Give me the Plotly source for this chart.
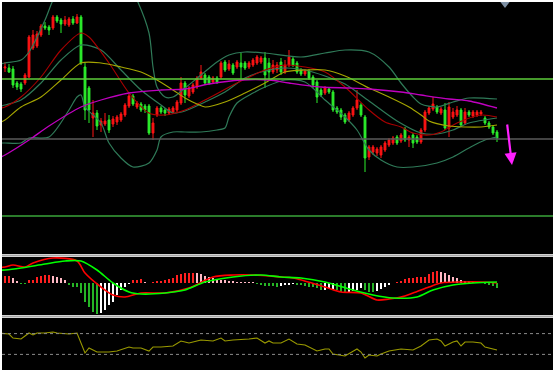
import plotly.graph_objects as go

# ---------------- candles (bar index 0..123) ----------------
bar_index = list(range(124))
open_ = [232,232,231,217,216,217,223,252,254,265,274,273,272,283,280,276,275,281,277,283,
         233,212,182,187,175,176,180,176,178,180,185,194,204,193,196,194,194,167,185,192,
         190,187,188,190,197,217,204,208,213,222,225,223,218,222,223,238,231,235,233,237,
         237,233,235,237,238,242,237,228,230,238,228,235,241,237,230,226,229,223,218,210,
         207,211,208,192,190,185,180,185,192,195,183,143,148,147,145,150,155,157,163,159,
         171,160,165,163,158,170,187,191,193,187,190,172,183,185,190,177,188,184,185,186,
         182,177,173,168]
high = [238,236,234,219,218,227,265,270,269,276,278,275,285,285,282,284,283,284,286,285,
        237,214,200,190,182,187,185,184,185,188,197,206,206,199,198,196,196,182,194,194,
        192,193,194,200,223,219,214,217,224,235,227,225,224,224,239,240,240,237,240,247,
        239,239,242,245,244,248,242,240,238,242,240,250,243,239,232,231,231,225,220,212,
        214,213,210,194,192,187,189,194,210,197,185,155,155,153,155,159,162,164,165,167,
        173,165,167,165,172,190,194,203,195,193,197,198,192,194,192,192,190,190,190,190,
        184,179,175,170]
low = [228,227,212,210,208,215,222,250,252,263,270,265,270,277,267,274,273,275,276,235,
       180,177,163,170,168,174,167,173,175,178,183,192,194,191,188,187,165,160,183,186,
       184,185,186,188,195,197,202,206,211,220,215,215,216,216,221,228,229,225,231,220,
       230,231,233,235,236,212,220,226,227,225,226,233,233,226,224,224,220,212,197,203,
       205,206,188,186,180,176,178,183,190,183,128,140,145,144,142,148,153,155,155,157,
       158,153,152,156,156,168,185,189,186,185,170,163,181,183,173,175,183,182,183,184,
       175,171,165,158]
close = [233,228,215,213,211,225,263,265,266,274,272,270,283,279,276,280,281,277,283,237,
         190,190,187,174,179,179,170,181,183,186,195,204,196,197,190,190,167,177,192,188,
         187,191,192,198,217,205,212,215,222,228,217,217,222,218,237,230,236,227,238,233,
         232,237,240,243,242,225,228,235,235,228,235,243,235,228,226,229,222,215,203,205,
         212,208,190,188,183,178,187,192,200,185,142,153,153,151,153,157,160,162,157,165,
         160,163,157,158,170,188,192,196,188,191,172,193,188,190,175,188,185,188,188,188,
         177,173,167,162]

# ---------------- main-panel indicator lines (index -1 = left edge of window) ----------------
ma_long_idx = [-1,0,6,11,19,24,31,39,45,51,59,66,71,79,86,91,99,104,111,116,123]
ma_long = [143,145,160,174,193,200,207,210,211,216,220,220,217,213,212,211,208,205,201,199,192]

ma_mid_idx = [-1,0,4,9,14,19,24,29,34,38,42,45,48,50,55,60,65,70,75,80,85,91,96,101,104,106,111,115,119,123]
ma_mid = [178,180,193,203,220,237,237,233,228,220,210,202,196,193,198,207,217,228,230,230,224,212,203,193,185,179,174,173,173,175]

ma_fast_idx = [-1,0,4,9,14,19,21,26,31,36,40,45,50,58,65,70,75,80,85,91,95,99,102,106,109,113,119,123]
ma_fast = [192,193,203,223,250,267,263,237,207,187,185,190,200,217,230,235,233,228,213,190,178,173,167,165,168,177,185,183]

bb_mid_idx = [-1,0,4,9,14,19,24,29,34,39,42,45,50,55,60,65,70,75,80,85,91,98,104,108,112,116,123]
bb_mid = [194,195,200,217,240,255,250,230,210,195,187,189,198,208,222,229,232,230,224,216,199,179,167,166,170,177,182]

bb_up_idx = [-1,0,4,6,10,12,16,24,29,33,36,37,38,40,42,45,49,53,56,60,65,74,80,85,91,96,99,102,104,108,112,116,123]
bb_up = [236,237,240,248,280,300,330,345,330,300,267,233,213,203,203,212,225,238,245,248,247,243,247,250,248,233,217,203,196,193,198,202,201]

bb_lo_idx = [-1,0,4,6,11,16,18,19,20,24,26,29,32,36,38,39,42,45,49,53,55,56,58,62,65,70,75,80,85,88,91,94,98,102,108,112,116,120,123]
bb_lo = [157,157,157,162,163,190,203,205,193,177,157,142,133,137,150,163,168,168,168,170,172,183,197,207,213,220,218,200,183,170,150,140,133,133,137,143,152,160,163]

levels_green = [221, 84]
level_gray = [161]

# ---------------- MACD ----------------
macd_hist = [6.7,6.9,4.3,2.0,-1.0,-1.2,2.7,3.0,6.0,6.7,7.7,8.0,6.7,6.0,4.3,2.7,-2.0,-4.0,-4.3,-10,
             -19,-24,-29,-31,-30,-27,-22,-19,-12,-7,-4,-1.3,2.7,2.9,3.3,1.0,-0.7,1.0,1.7,2.0,
             2.7,3.3,4.3,7.7,8.7,9.3,9.5,10.0,9.3,8.7,6.7,5.3,4.3,3.3,2.7,2.5,2.0,1.7,1.0,0.9,
             0.5,0.4,0.3,-1.7,-2.0,-3.0,-3.3,-3.6,-4.0,-3.3,-2.3,-2.0,-1.0,-2.3,-2.6,-3.3,-4.0,-4.7,-5.7,-7.3,
             -7.0,-6.7,-6.3,-7.3,-9.0,-10.0,-9.3,-8.7,-7.3,-5.7,-7.3,-9.0,-9.3,-8.0,-6.7,-4.0,-2.3,-0.7,0.7,2.0,
             3.3,4.3,5.0,5.3,5.5,6.0,8.3,10.3,11.3,11.0,9.3,7.7,6.0,4.3,2.7,2.0,1.3,1.0,0.7,0.3,
             -1.3,-2.3,-3.3,-5.7]
macd_idx = [-1,0,2,5,7,12,18,20,24,27,30,34,40,46,52,57,62,69,72,80,84,89,93,96,99,102,106,109,114,119,123]
macd_line = [15.5,15.7,17.7,15.7,19.7,24.7,21.7,9.7,-4.3,-12.3,-14.3,-10.3,-10.3,-5.3,5.7,7.7,7.7,5.7,4.7,-4.3,-9.3,
             -10.3,-17.3,-16.3,-14.3,-10.3,-4.3,-0.3,0.7,0.7,-0.3]
signal_idx = [-1,0,4,10,15,19,23,27,31,34,40,45,50,57,64,69,74,80,87,92,97,103,107,112,117,123]
signal_line = [12.5,12.7,14.7,18.7,21.7,21.7,12.7,-0.3,-9.3,-11.3,-10.3,-7.3,0.7,5.7,7.7,5.7,4.7,0.7,-7.3,-12.3,-15.3,
               -14.3,-7.3,-2.3,-0.3,0.7]

# ---------------- RSI ----------------
rsi_idx = [-1,0,1,2,4,5,6,7,8,10,12,13,16,18,19,20,21,23,26,28,31,32,34,36,37,39,42,44,46,49,52,
           54,55,57,61,63,65,66,67,69,71,73,75,78,80,81,82,85,88,89,90,91,93,94,96,99,102,104,106,108,109,
           110,112,113,114,115,117,119,120,123]
rsi = [70.6,70.6,69.2,61.5,59.6,65.4,71.2,67.3,71.2,71.2,73.1,71.2,69.2,71.2,51.9,32.7,42.3,34.6,34.6,36.5,44.2,
       42.3,42.3,36.5,44.2,44.2,46.2,55.8,51.9,57.7,55.8,61.5,55.8,57.7,59.6,61.5,51.9,55.8,51.9,51.9,59.6,
       50,48.1,36.5,40.4,40.4,30.8,26.9,40.4,34.6,23.1,28.8,26.9,30.8,36.5,40.4,38.5,46.2,57.7,59.6,55.8,
       46.2,53.8,55.8,46.2,53.8,53.8,51.9,44.2,38.5]
rsi_levels = [70, 30]

# ---------------- figure ----------------
fig = go.Figure()

fig.add_trace(go.Candlestick(
    x=bar_index, open=open_, high=high, low=low, close=close,
    increasing=dict(line=dict(color='#ff1414', width=1), fillcolor='#ff1414'),
    decreasing=dict(line=dict(color='#2cf02c', width=1), fillcolor='#2cf02c'),
    whiskerwidth=0, xaxis='x', yaxis='y', showlegend=False, hoverinfo='skip'))

def line(xs, ys, color, width=1.1, yaxis='y', shape='spline'):
    fig.add_trace(go.Scatter(x=xs, y=ys, mode='lines', yaxis=yaxis,
                             line=dict(color=color, width=width, shape=shape, smoothing=0.8),
                             showlegend=False, hoverinfo='skip'))

bb_col = '#2f7a58'
line(bb_up_idx, bb_up, bb_col, 1.2)
line(bb_mid_idx, bb_mid, bb_col, 1.2)
line(bb_lo_idx, bb_lo, bb_col, 1.2)
line(ma_fast_idx, ma_fast, '#a80000', 1.1)
line(ma_mid_idx, ma_mid, '#a6a600', 1.1)
line(ma_long_idx, ma_long, '#c000c0', 1.3)

# chart-shift marker at top
fig.add_trace(go.Scatter(x=[125], y=[297.5], mode='markers', yaxis='y',
                         marker=dict(symbol='triangle-down', size=11, color='#7d8fa3'),
                         showlegend=False, hoverinfo='skip'))

# MACD histogram colors from direction
hist_colors = []
for i, v in enumerate(macd_hist):
    prev = macd_hist[i - 1] if i > 0 else v
    if v >= 0:
        hist_colors.append('#ff2020' if v >= prev else '#ffb8c4')
    else:
        hist_colors.append('#26b526' if v <= prev else '#ffffff')
fig.add_trace(go.Bar(x=bar_index, y=macd_hist, yaxis='y2', width=0.5,
                     marker=dict(color=hist_colors, line=dict(width=0)),
                     showlegend=False, hoverinfo='skip'))
line(macd_idx, macd_line, '#ff0000', 1.6, 'y2')
line(signal_idx, signal_line, '#00ff00', 1.6, 'y2')

line(rsi_idx, rsi, '#9a9a00', 1.1, 'y3', shape='linear')

shapes = []
for lv, col in zip(levels_green, ['#5ccc3a', '#3aa63a']):
    shapes.append(dict(type='line', xref='paper', x0=0, x1=1, yref='y', y0=lv, y1=lv,
                       line=dict(color=col, width=1.3)))
for lv in level_gray:
    shapes.append(dict(type='line', xref='paper', x0=0, x1=1, yref='y', y0=lv, y1=lv,
                       line=dict(color='#5a5a5a', width=1.3)))
for lv in rsi_levels:
    shapes.append(dict(type='line', xref='paper', x0=0, x1=1, yref='y3', y0=lv, y1=lv,
                       line=dict(color='#8a8a8a', width=1, dash='dot')))
for yp in [0.3111, 0.1454]:
    shapes.append(dict(type='line', xref='paper', x0=0, x1=1, yref='paper', y0=yp, y1=yp,
                       line=dict(color='#a6a6a6', width=2.2)))

annotations = [dict(x=126.75, y=135, ax=125.5, ay=177, xref='x', yref='y', axref='x', ayref='y',
                    showarrow=True, arrowhead=2, arrowsize=1.1, arrowwidth=2.2,
                    arrowcolor='#ff20ff', text='')]

ax_common = dict(showgrid=False, zeroline=False, showticklabels=False, ticks='', showline=False)
fig.update_layout(
    width=555, height=372,
    margin=dict(l=2, r=2, t=2, b=2, pad=0),
    paper_bgcolor='#ffffff', plot_bgcolor='#000000',
    showlegend=False, hovermode=False, boxgap=0.35, bargap=0,
    xaxis=dict(range=[-0.75, 137.0], rangeslider=dict(visible=False), **ax_common),
    yaxis=dict(domain=[0.31522, 1.0], range=[46, 298], **ax_common),
    yaxis2=dict(domain=[0.14946, 0.30707], range=[-32.3, 25.7], anchor='x', **ax_common),
    yaxis3=dict(domain=[0.0, 0.1413], range=[0, 100], anchor='x', **ax_common),
    shapes=shapes, annotations=annotations,
)

fig.write_html("out.html", config=dict(displayModeBar=False, staticPlot=True),
               post_script="document.body.style.margin='0';document.body.style.overflow='hidden';")
